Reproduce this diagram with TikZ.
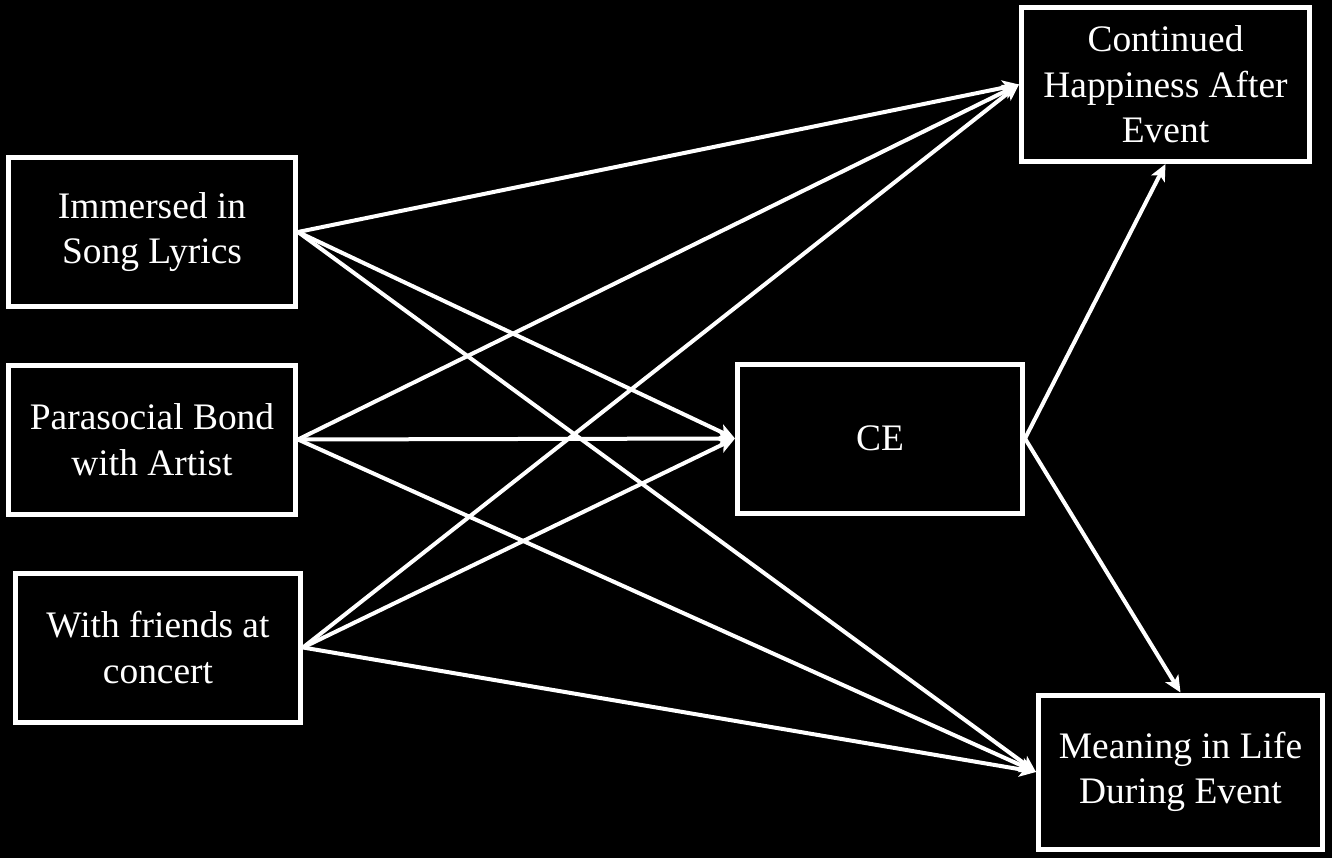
\documentclass[tikz,border=0pt]{standalone}
\usepackage{fontspec}
\setmainfont{Liberation Serif}
\usetikzlibrary{arrows.meta}

\begin{document}
\begin{tikzpicture}[
        font=\fontsize{21.3}{26}\selectfont,
        >={Stealth[length=3.3mm, width=3mm, inset=0.8mm]},
        var/.style={rectangle, draw=white, line width=1mm, fill=black,
            text=white, align=center, inner sep=2pt},
        pred/.style={var, minimum width=5.74cm, minimum height=2.98cm},
        outc/.style={var, minimum width=5.76cm, minimum height=3.08cm},
        link/.style={->, white, line width=0.8mm}
    ]
        \fill[black] (0,0) rectangle (26.64,17.16);
        \useasboundingbox (0,0) rectangle (26.64,17.16);

        \node[pred] (imm) at (3.04,12.52) {Immersed in\\Song Lyrics};
        \node[pred] (par) at (3.04,8.37)  {Parasocial Bond\\with Artist};
        \node[pred, minimum width=5.7cm] (fri) at (3.16,4.21) {With friends at\\concert};
        \node[pred, minimum width=5.7cm] (ce) at (17.6,8.39) {CE};
        \node[outc] (hap) at (23.31,15.47) {Continued\\Happiness After\\Event};
        \node[outc, minimum width=5.68cm] (mea) at (23.61,1.72) {Meaning in Life\\During Event};

        \draw[link] (imm.east) -- (hap.west);
        \draw[link] (imm.east) -- (ce.west);
        \draw[link] (imm.east) -- (mea.west);
        \draw[link] (par.east) -- (hap.west);
        \draw[link] (par.east) -- (ce.west);
        \draw[link] (par.east) -- (mea.west);
        \draw[link] (fri.east) -- (hap.west);
        \draw[link] (fri.east) -- (ce.west);
        \draw[link] (fri.east) -- (mea.west);
        \draw[link] (ce.east) -- (hap.south);
        \draw[link] (ce.east) -- (mea.north);
    \end{tikzpicture}
\end{document}
